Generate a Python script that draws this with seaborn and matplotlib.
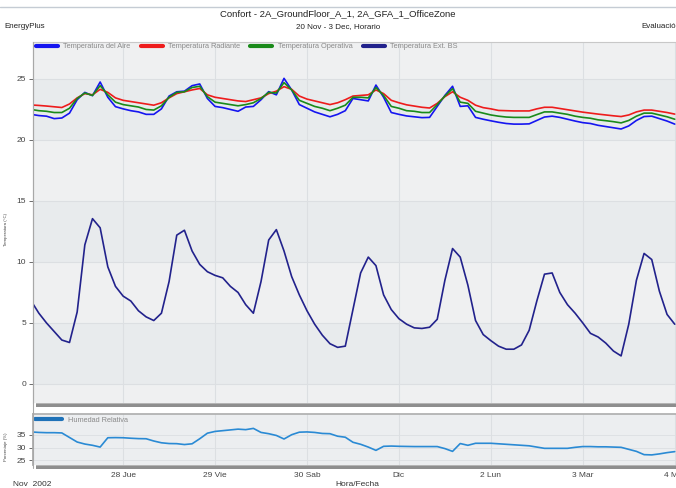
import matplotlib
matplotlib.use("Agg")
import matplotlib.pyplot as plt
from matplotlib.patches import Rectangle
from matplotlib.lines import Line2D
import seaborn as sns
import pandas as pd

# Hourly readings sampled every 2 h, hours counted from 27 Nov 00:00
hours = list(range(0, 169, 2))

temp_ext = [
    6.8, 5.8, 5.0, 4.3, 3.6, 3.4, 5.9, 11.4, 13.55, 12.8, 9.6, 8.0,
    7.2, 6.8, 6.0, 5.5, 5.2, 5.8, 8.4, 12.2, 12.6, 10.9, 9.8, 9.2,
    8.9, 8.7, 8.0, 7.5, 6.5, 5.8, 8.4, 11.8, 12.65, 10.9, 8.8, 7.3,
    6.0, 4.9, 4.0, 3.3, 3.0, 3.1, 6.1, 9.1, 10.4, 9.7, 7.3, 6.1,
    5.35, 4.9, 4.6, 4.55, 4.65, 5.3, 8.5, 11.1, 10.4, 8.1, 5.2, 4.05,
    3.55, 3.1, 2.85, 2.85, 3.2, 4.4, 6.8, 9.0, 9.1, 7.5, 6.5, 5.8,
    5.0, 4.15, 3.85, 3.35, 2.7, 2.3, 4.9, 8.5, 10.7, 10.2, 7.6, 5.7,
    4.9,
]

temp_aire = [
    22.1, 22.0, 21.95, 21.75, 21.8, 22.2, 23.3, 23.9, 23.63, 24.75, 23.5, 22.73,
    22.55, 22.4, 22.3, 22.1, 22.1, 22.55, 23.6, 23.95, 24.0, 24.45, 24.59, 23.4,
    22.75, 22.65, 22.5, 22.35, 22.7, 22.75, 23.3, 23.96, 23.7, 25.05, 24.1, 22.9,
    22.6, 22.3, 22.1, 21.9, 22.1, 22.4, 23.4, 23.3, 23.2, 24.5, 23.5, 22.25,
    22.1, 21.97, 21.9, 21.83, 21.85, 22.75, 23.65, 24.4, 22.75, 22.8, 21.85, 21.7,
    21.57, 21.45, 21.35, 21.3, 21.3, 21.32, 21.6, 21.88, 21.95, 21.85, 21.7, 21.55,
    21.42, 21.35, 21.2, 21.1, 21.0, 20.9, 21.15, 21.6, 21.92, 21.95, 21.75, 21.55,
    21.3,
]

temp_radiante = [
    22.87, 22.83, 22.78, 22.72, 22.66, 22.95, 23.45, 23.8, 23.7, 24.15, 23.9, 23.45,
    23.25, 23.15, 23.05, 22.95, 22.85, 23.05, 23.45, 23.8, 23.95, 24.1, 24.22, 23.7,
    23.5, 23.4, 23.3, 23.2, 23.15, 23.3, 23.45, 23.8, 24.0, 24.37, 24.15, 23.6,
    23.35, 23.2, 23.05, 22.9, 23.05, 23.3, 23.6, 23.65, 23.7, 24.1, 23.8, 23.25,
    23.05, 22.88, 22.78, 22.68, 22.62, 23.0, 23.55, 23.95, 23.5, 23.25, 22.85, 22.65,
    22.55, 22.42, 22.4, 22.38, 22.38, 22.38, 22.55, 22.68, 22.68, 22.58, 22.48, 22.38,
    22.28, 22.2, 22.12, 22.05, 21.98, 21.92, 22.05, 22.3, 22.45, 22.45, 22.35, 22.25,
    22.12,
]

temp_operativa = [
    22.5, 22.4, 22.35, 22.25, 22.25, 22.6, 23.4, 23.85, 23.65, 24.45, 23.7, 23.1,
    22.9, 22.8, 22.7, 22.5, 22.45, 22.8, 23.5, 23.9, 23.95, 24.3, 24.4, 23.55,
    23.1, 23.0, 22.9, 22.8, 22.9, 23.05, 23.4, 23.9, 23.85, 24.7, 24.1, 23.25,
    23.0, 22.75, 22.6, 22.4, 22.6, 22.85, 23.5, 23.5, 23.45, 24.3, 23.65, 22.75,
    22.6, 22.4, 22.35, 22.25, 22.25, 22.9, 23.6, 24.2, 23.1, 23.0, 22.35, 22.2,
    22.05, 21.95, 21.88, 21.85, 21.85, 21.85, 22.08, 22.3, 22.3, 22.2, 22.1, 21.95,
    21.85, 21.78, 21.65, 21.58, 21.5, 21.4, 21.6, 21.95, 22.2, 22.2, 22.05, 21.9,
    21.7,
]

humedad = [
    36.2, 36.0, 35.9, 35.9, 35.8, 34.0, 32.2, 31.4, 30.9, 30.2, 33.9, 33.95,
    33.9, 33.7, 33.55, 33.5, 32.6, 31.9, 31.6, 31.55, 31.2, 31.5, 33.5, 35.7,
    36.4, 36.7, 37.0, 37.3, 37.1, 37.6, 36.0, 35.5, 34.8, 33.4, 35.1, 36.1,
    36.2, 36.0, 35.6, 35.5, 34.5, 34.1, 32.1, 31.3, 30.2, 28.9, 30.5, 30.6,
    30.5, 30.45, 30.4, 30.4, 30.4, 30.4, 29.6, 28.5, 31.6, 30.9, 31.7, 31.7,
    31.7, 31.5, 31.3, 31.1, 30.9, 30.7, 30.2, 29.7, 29.7, 29.7, 29.7, 30.1,
    30.4, 30.4, 30.3, 30.3, 30.2, 30.1, 29.3, 28.5, 27.2, 27.1, 27.5, 28.0,
    28.4,
]

day_ticks = [24, 48, 72, 96, 120, 144, 168]
day_labels = ["28 Jue", "29 Vie", "30 Sab", "Dic", "2 Lun", "3 Mar", "4 Mié"]

series_names = ["Temperatura del Aire", "Temperatura Radiante",
                "Temperatura Operativa", "Temperatura Ext. BS"]
series_colors = ["#1515f0", "#ee1c1c", "#1a8a1a", "#22228c"]

df = pd.DataFrame({
    "hora": hours,
    series_names[0]: temp_aire,
    series_names[1]: temp_radiante,
    series_names[2]: temp_operativa,
    series_names[3]: temp_ext,
    "Humedad Relativa": humedad,
})
long_t = df.melt(id_vars="hora", value_vars=series_names,
                 var_name="serie", value_name="valor")

sns.set_theme(style="white")
plt.rcParams["font.family"] = ["Liberation Sans", "DejaVu Sans"]

W, H = 676, 488
fig = plt.figure(figsize=(W / 100, H / 100), dpi=100)
fig.patch.set_facecolor("white")


def fx(px):
    return px / W


def fy(py):
    return 1 - py / H


bg = "#eceef0"
grid_c = "#dcdfe2"
x_lo, x_hi = 0.47, 169.9

# ---- main temperature panel ----
ax = fig.add_axes([fx(33), fy(403), fx(682 - 33), fy(42) - fy(403)])
ax.set_facecolor("#eff0f1")
for lo, hi in [(0, 5), (10, 15), (20, 25)]:
    ax.axhspan(lo, hi, color="#e8ebed", zorder=0, lw=0)
for d in day_ticks:
    ax.axvline(d, color=grid_c, lw=0.8, zorder=1)
for yv in range(0, 30, 5):
    ax.axhline(yv, color=grid_c, lw=0.8, zorder=1)

sns.lineplot(data=long_t, x="hora", y="valor", hue="serie",
             hue_order=series_names, palette=series_colors,
             linewidth=1.2, ax=ax, legend=False, zorder=3)

ax.set_xlim(x_lo, x_hi)
ax.set_ylim(-1.56, 28.03)
ax.set_yticks([0, 5, 10, 15, 20, 25])
ax.set_xticks([])
ax.set_xlabel("")
ax.set_ylabel("")
ax.tick_params(axis="y", labelsize=6, colors="#555555", length=3,
               width=0.6, pad=2, left=True)
for lbl in ax.get_yticklabels():
    lbl.set_color("#444444")
for side in ["right", "bottom"]:
    ax.spines[side].set_visible(False)
ax.spines["left"].set_color("#a8a8a8")
ax.spines["top"].set_color("#c8c8c8")
ax.spines["left"].set_linewidth(0.8)
ax.spines["top"].set_linewidth(0.8)

handles = [Line2D([0], [0], color=c, lw=3) for c in series_colors]
leg = ax.legend(handles, series_names, loc="upper left",
                bbox_to_anchor=(0.0, 1.005), ncol=4, frameon=False,
                fontsize=5.3, handlelength=3.0, handletextpad=0.7,
                columnspacing=1.4, borderaxespad=0.2, borderpad=0.2)
for t in leg.get_texts():
    t.set_color("#8a8a8a")

# ---- relative humidity panel ----
ax2 = fig.add_axes([fx(33), fy(465), fx(682 - 33), fy(414) - fy(465)])
ax2.set_facecolor(bg)
for d in day_ticks:
    ax2.axvline(d, color=grid_c, lw=0.8, zorder=1)
for yv in [25, 30, 35]:
    ax2.axhline(yv, color=grid_c, lw=0.6, zorder=1)
sns.lineplot(data=df, x="hora", y="Humedad Relativa", color="#2a8ad4",
             linewidth=1.2, ax=ax2, zorder=3)
ax2.set_xlim(x_lo, x_hi)
ax2.set_ylim(23.1, 43.3)
ax2.set_yticks([25, 30, 35])
ax2.set_xticks(day_ticks)
ax2.set_xticklabels(day_labels)
ax2.set_xlabel("")
ax2.set_ylabel("")
ax2.tick_params(axis="y", labelsize=6, labelcolor="#444444", length=3,
                width=0.6, pad=2, left=True, colors="#555555")
ax2.tick_params(axis="x", labelsize=6, labelcolor="#444444", length=0,
                pad=5)
for side in ["right", "bottom"]:
    ax2.spines[side].set_visible(False)
ax2.spines["left"].set_color("#a8a8a8")
ax2.spines["top"].set_color("#b0b0b0")
leg2 = ax2.legend([Line2D([0], [0], color="#1f72b8", lw=3)],
                  ["Humedad Relativa"], loc="upper left",
                  bbox_to_anchor=(0.0, 0.99), frameon=False, fontsize=5.3,
                  handlelength=3.7, handletextpad=0.7, borderaxespad=0.1,
                  borderpad=0.2)
for t in leg2.get_texts():
    t.set_color("#8a8a8a")

# left frame line joining both panels
fig.add_artist(Line2D([fx(32.5), fx(32.5)], [fy(468), fy(42)],
                      color="#a8a8a8", lw=0.8))

# scroll bars under each panel
for top, bot in [(403, 407), (465, 468.5)]:
    fig.add_artist(Rectangle((fx(36), fy(bot)), fx(676 - 36), fy(top) - fy(bot),
                             facecolor="#8e8e8e", edgecolor="none"))
    fig.add_artist(Rectangle((fx(36), fy(top + 0.8)), fx(676 - 36), fy(top) - fy(top + 0.8),
                             facecolor="#b4b4b4", edgecolor="none"))

# thin rule at the very top
fig.add_artist(Line2D([0, 1], [fy(7), fy(7)], color="#c5ccd4", lw=1.0))

# header texts
fig.text(0.5, fy(14), "Confort - 2A_GroundFloor_A_1, 2A_GFA_1_OfficeZone",
         ha="center", va="center", fontsize=6.8, color="#222222")
fig.text(fx(4), fy(27), "EnergyPlus", ha="left", va="center",
         fontsize=5.8, color="#222222")
fig.text(0.5, fy(27), "20 Nov - 3 Dec, Horario", ha="center", va="center",
         fontsize=5.8, color="#222222")
fig.text(fx(641), fy(27), "Evaluación", ha="left", va="center",
         fontsize=5.8, color="#222222")

# axis titles
fig.text(fx(6), fy(230), "Temperatura (°C)", rotation=90, ha="center",
         va="center", fontsize=3.2, color="#444444")
fig.text(fx(6), fy(447), "Porcentaje (%)", rotation=90, ha="center",
         va="center", fontsize=3.2, color="#444444")
fig.text(fx(13), fy(484.5), "Nov  2002", ha="left", va="center",
         fontsize=6, color="#333333")
fig.text(fx(335), fy(484.5), "Hora/Fecha", ha="left", va="center",
         fontsize=6, color="#333333")

fig.savefig("out.png", dpi=100, facecolor="white")
